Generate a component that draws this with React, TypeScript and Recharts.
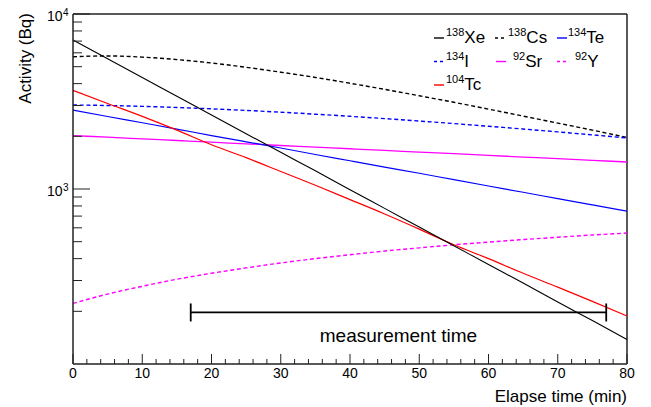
import React from 'react';
import { LineChart, Line, XAxis, YAxis, ReferenceLine } from 'recharts';

// elapsed time (min)
const TIME = [0, 5, 10, 15, 20, 25, 30, 35, 40, 45, 50, 55, 60, 65, 70, 75, 80];

// activity (Bq)
const XE_138 = [7100, 5550, 4340, 3390, 2650, 2070, 1620, 1270, 990, 775, 606, 474, 370, 290, 226, 177, 138];
const CS_138 = [5700, 5760, 5670, 5490, 5250, 4960, 4650, 4340, 4020, 3710, 3410, 3130, 2860, 2610, 2380, 2170, 1970];
const TE_134 = [2820, 2595, 2390, 2200, 2020, 1860, 1715, 1575, 1450, 1335, 1230, 1130, 1040, 958, 881, 811, 747];
const I_134 = [3020, 3000, 2966, 2923, 2871, 2812, 2747, 2676, 2602, 2525, 2446, 2365, 2283, 2201, 2120, 2038, 1957];
const SR_92 = [2020, 1977, 1934, 1893, 1852, 1812, 1773, 1735, 1698, 1661, 1626, 1591, 1556, 1523, 1490, 1458, 1427];
const Y_92 = [222, 251, 278, 305, 330, 354, 378, 400, 421, 442, 461, 480, 497, 514, 530, 546, 560];
const TC_104 = [3660, 3080, 2600, 2170, 1790, 1510, 1260, 1050, 870, 720, 590, 480, 400, 330, 275, 228, 188];

const X_TICKS = [0, 2, 4, 6, 8, 10, 12, 14, 16, 18, 20, 22, 24, 26, 28, 30, 32, 34, 36, 38, 40,
  42, 44, 46, 48, 50, 52, 54, 56, 58, 60, 62, 64, 66, 68, 70, 72, 74, 76, 78, 80];
const X_LABELS = [0, 10, 20, 30, 40, 50, 60, 70, 80];
const Y_TICKS = [200, 300, 400, 500, 600, 700, 800, 900, 1000,
  2000, 3000, 4000, 5000, 6000, 7000, 8000, 9000, 10000];
const Y_LABELS = [
  { value: 1000, exp: '3' },
  { value: 10000, exp: '4' },
];

const MEAS_START = 17;
const MEAS_END = 77;
const MEAS_LEVEL = 197;

const FONT = '"Liberation Sans", Arial, Helvetica, sans-serif';
const DASH = '4 2.7';

const data = TIME.map((t, i) => ({
  t,
  xe: XE_138[i],
  cs: CS_138[i],
  te: TE_134[i],
  iod: I_134[i],
  sr: SR_92[i],
  y: Y_92[i],
  tc: TC_104[i],
}));

const LEGEND = [
  { mass: '138', name: 'Xe', color: '#000', dash: undefined, lx: 434, tx: 446, row: 0 },
  { mass: '138', name: 'Cs', color: '#000', dash: '3 3', lx: 495, tx: 508, row: 0 },
  { mass: '134', name: 'Te', color: '#0000ff', dash: undefined, lx: 557, tx: 568, row: 0 },
  { mass: '134', name: 'I', color: '#0000ff', dash: '3 3', lx: 434, tx: 446, row: 1 },
  { mass: '92', name: 'Sr', color: '#ff00ff', dash: undefined, lx: 496, tx: 513, row: 1 },
  { mass: '92', name: 'Y', color: '#ff00ff', dash: '3 3', lx: 557, tx: 575, row: 1 },
  { mass: '104', name: 'Tc', color: '#ff0000', dash: undefined, lx: 434, tx: 446, row: 2 },
];

const XTick = (props: any) => {
  const { x, y, payload } = props;
  const major = X_LABELS.includes(payload.value);
  return (
    <g>
      <line x1={x} x2={x} y1={y} y2={y - (major ? 10 : 5)} stroke="#222" strokeWidth={1} />
      {major && (
        <text x={x} y={y + 14} textAnchor="middle" fontSize={14} fontFamily={FONT} fill="#000">
          {payload.value}
        </text>
      )}
    </g>
  );
};

const YTick = (props: any) => {
  const { x, y, payload } = props;
  const lab = Y_LABELS.find((l) => l.value === payload.value);
  return (
    <g>
      <line x1={x} x2={x + (lab ? 17 : 9)} y1={y} y2={y} stroke="#222" strokeWidth={1} />
      {lab && (
        <g fontFamily={FONT} fill="#000">
          <text x={x - 10.5} y={y + 7} textAnchor="end" fontSize={14}>10</text>
          <text x={x - 10} y={y + 1.5} fontSize={10}>{lab.exp}</text>
        </g>
      )}
    </g>
  );
};

const MeasureBar = (props: any) => {
  const { x1, x2, y1 } = props;
  return (
    <g>
      <line x1={x1} x2={x2} y1={y1} y2={y1} stroke="#000" strokeWidth={1.8} />
      <line x1={x1} x2={x1} y1={y1 - 9} y2={y1 + 9} stroke="#000" strokeWidth={1.8} />
      <line x1={x2} x2={x2} y1={y1 - 9} y2={y1 + 9} stroke="#000" strokeWidth={1.8} />
      <text x={(x1 + x2) / 2} y={y1 + 30} textAnchor="middle" fontSize={19} fontFamily={FONT} fill="#000">
        measurement time
      </text>
    </g>
  );
};

export default function App() {
  return (
    <div style={{ position: 'absolute', left: 0, top: 0, width: 651, height: 407, background: '#fff' }}>
      <LineChart width={651} height={407} data={data} margin={{ top: 14, right: 24, bottom: 0, left: 0 }}>
        <XAxis
          dataKey="t"
          type="number"
          domain={[0, 80]}
          ticks={X_TICKS}
          interval={0}
          height={43}
          tickSize={0}
          tickMargin={0}
          tickLine={false}
          tick={<XTick />}
          axisLine={{ stroke: '#222', strokeWidth: 1.5 }}
        />
        <YAxis
          scale="log"
          domain={[100, 10000]}
          allowDataOverflow
          ticks={Y_TICKS}
          interval={0}
          width={73}
          tickSize={0}
          tickMargin={0}
          tickLine={false}
          tick={<YTick />}
          axisLine={{ stroke: '#222', strokeWidth: 1.5 }}
        />
        <ReferenceLine y={10000} stroke="#222" strokeWidth={1.5} />
        <ReferenceLine x={80} stroke="#222" strokeWidth={1.5} />

        <Line dataKey="cs" stroke="#000" strokeWidth={1.4} strokeDasharray={DASH} dot={false} type="monotone" isAnimationActive={false} />
        <Line dataKey="iod" stroke="#0000ff" strokeWidth={1.4} strokeDasharray={DASH} dot={false} type="monotone" isAnimationActive={false} />
        <Line dataKey="y" stroke="#ff00ff" strokeWidth={1.4} strokeDasharray={DASH} dot={false} type="monotone" isAnimationActive={false} />
        <Line dataKey="sr" stroke="#ff00ff" strokeWidth={1.3} dot={false} type="monotone" isAnimationActive={false} />
        <Line dataKey="te" stroke="#0000ff" strokeWidth={1.2} dot={false} type="monotone" isAnimationActive={false} />
        <Line dataKey="tc" stroke="#ff0000" strokeWidth={1.2} dot={false} type="monotone" isAnimationActive={false} />
        <Line dataKey="xe" stroke="#000" strokeWidth={1.1} dot={false} type="monotone" isAnimationActive={false} />

        <ReferenceLine
          segment={[{ x: MEAS_START, y: MEAS_LEVEL }, { x: MEAS_END, y: MEAS_LEVEL }]}
          shape={(p: any) => <MeasureBar {...p} />}
        />
      </LineChart>

      <svg width={651} height={407} style={{ position: 'absolute', left: 0, top: 0, pointerEvents: 'none' }}>
        <g fontFamily={FONT} fill="#000">
          <text x={30.5} y={13} fontSize={17} textAnchor="end" transform="rotate(-90 30.5 13)">
            Activity (Bq)
          </text>
          <text x={627} y={402} fontSize={17} textAnchor="end">
            Elapse time (min)
          </text>
          {LEGEND.map((e) => {
            const base = 43 + e.row * 23.5;
            const ly = base - 5;
            return (
              <g key={e.name}>
                <line x1={e.lx} x2={e.lx + 10} y1={ly} y2={ly} stroke={e.color} strokeWidth={1.4} strokeDasharray={e.dash} />
                <text x={e.tx} y={base}>
                  <tspan fontSize={11} dy={-7}>{e.mass}</tspan>
                  <tspan fontSize={17} dy={7}>{e.name}</tspan>
                </text>
              </g>
            );
          })}
        </g>
      </svg>
    </div>
  );
}
